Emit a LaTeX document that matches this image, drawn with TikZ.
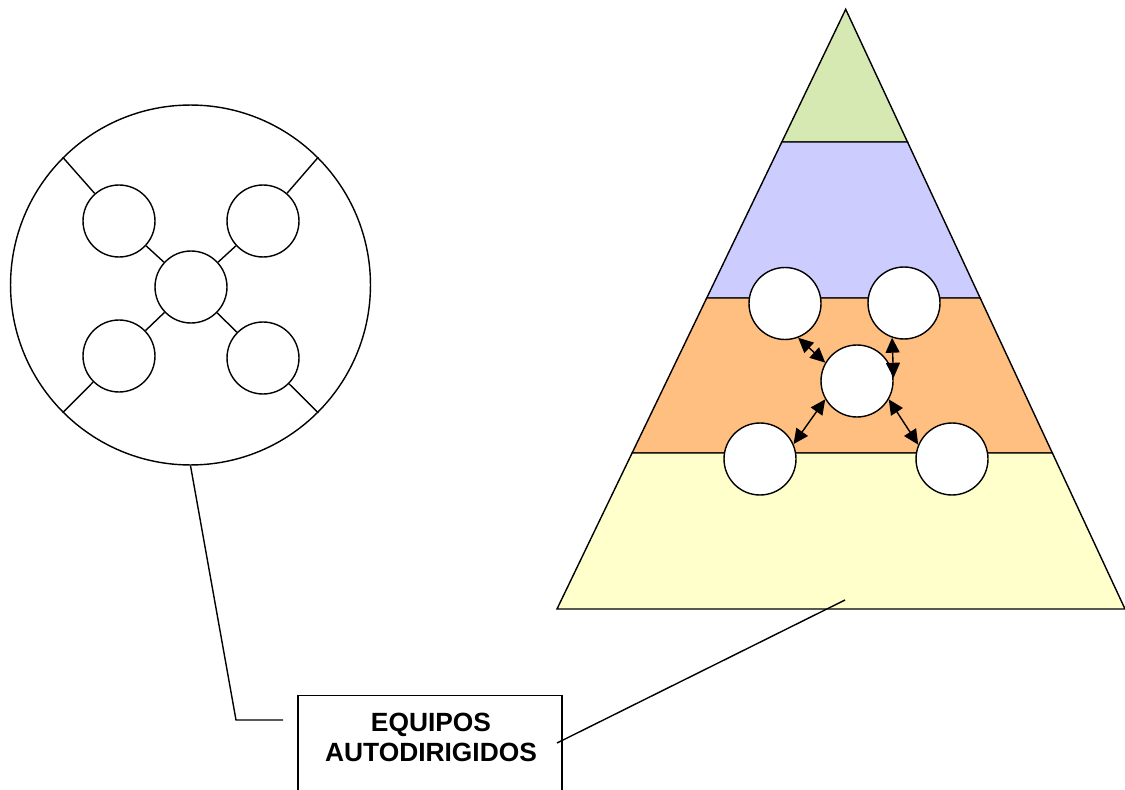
\documentclass[tikz,border=0pt]{standalone}
\usepackage{fontspec}
\usetikzlibrary{arrows.meta,calc}
\newfontfamily\labelfont{Liberation Sans}
\definecolor{topgreen}{HTML}{D7E9B3}
\definecolor{midblue}{HTML}{CCCCFF}
\definecolor{midorange}{HTML}{FFBF80}
\definecolor{baseyellow}{HTML}{FFFFCC}
\tikzset{
    member/.style={circle, draw, fill=white, minimum size=1.44cm, inner sep=0pt},
    link/.style={{Triangle[length=3mm,width=2.8mm]}-{Triangle[length=3mm,width=2.8mm]}},
}

\begin{document}
\begin{tikzpicture}[x=0.02cm, y=-0.02cm, line width=0.8pt]
    \useasboundingbox (0,0) rectangle (1125,790);

    % Pyramid
    \coordinate (apex) at (845.7,9.3);
    \coordinate (bl) at (557,609);
    \coordinate (br) at (1125,609);
    \draw[fill=topgreen] (apex) -- ($(apex)!0.2213!(bl)$) -- ($(apex)!0.2213!(br)$) -- cycle;
    \foreach \a/\b/\col in {0.2213/0.4814/midblue, 0.4814/0.7399/midorange, 0.7399/1/baseyellow}
    \draw[fill=\col] ($(apex)!\a!(bl)$) -- ($(apex)!\b!(bl)$) -- ($(apex)!\b!(br)$) -- ($(apex)!\a!(br)$) -- cycle;

    % Team inside the pyramid
    \node[member] (p1) at (785,303.5) {};
    \node[member] (p2) at (904,303) {};
    \node[member] (pc) at (857,381) {};
    \node[member] (p3) at (760,459) {};
    \node[member] (p4) at (952,459) {};
    \draw[link] (p1.-69) -- (pc.150);
    \draw[link] (p2.-109) -- (pc.5);
    \draw[link] (p3.24) -- (pc.210);
    \draw[link] (p4.157) -- (pc.-30);

    % Team circle
    \node[member, minimum size=7.2cm] (team) at (190.5,285) {};
    \node[member] (hub) at (191,287) {};
    \node[member] (m1) at (119,221) {};
    \node[member] (m2) at (263,221) {};
    \node[member] (m3) at (119,356) {};
    \node[member] (m4) at (263,358) {};
    \foreach \m/\ang in {m1/135, m2/45, m3/225, m4/-45} {
        \draw (team.\ang) -- (\m);
        \draw (hub) -- (\m);
    }

    % Label
    \node[draw, fill=white, minimum width=5.28cm, minimum height=2.2cm, anchor=north] (box) at (430,695) {};
    \node[font=\labelfont\bfseries\fontsize{15}{17}\selectfont, align=center, inner sep=0pt] (boxtext) at (431,737) {EQUIPOS\\AUTODIRIGIDOS};
    \coordinate (bend) at (236,720);
    \coordinate (lend) at (283,720);
    \draw (team.south) -- (bend) -- (lend);
    \coordinate (rstart) at (557,743);
    \coordinate (rend) at (845,600);
    \draw (rstart) -- (rend);

\end{tikzpicture}
\end{document}
